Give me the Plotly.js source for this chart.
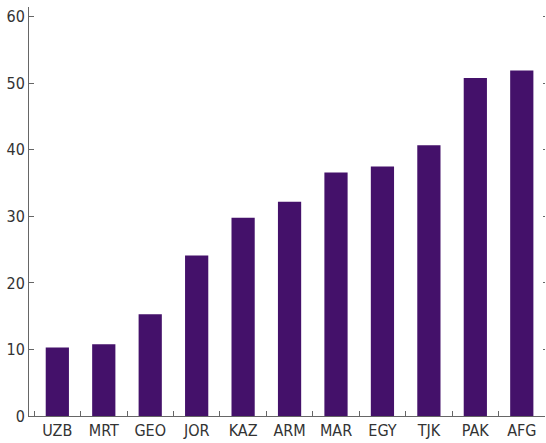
<!DOCTYPE html>
<html>
<head>
<meta charset="utf-8">
<script src="https://cdn.plot.ly/plotly-3.0.1.min.js"></script>
<style>html,body{margin:0;padding:0;background:#fff;}#chart{width:546px;height:443px;}</style>
</head>
<body>
<div id="chart"></div>
<script>
var categories = ["UZB","MRT","GEO","JOR","KAZ","ARM","MAR","EGY","TJK","PAK","AFG"];
var values = [10.3, 10.8, 15.3, 24.1, 29.8, 32.2, 36.6, 37.5, 40.7, 50.8, 51.9];
var yTicks = [0, 10, 20, 30, 40, 50, 60];

var fontFam = "'Liberation Sans Narrow', 'DejaVu Sans Condensed', sans-serif";
var data = [
  {type: "bar", x: categories, y: values, marker: {color: "#44116a"}, hoverinfo: "none"},
  {type: "scatter", x: [categories[0]], y: [0], yaxis: "y2", mode: "markers", marker: {opacity: 0}, showlegend: false, hoverinfo: "none"}
];
var layout = {
  width: 546, height: 443,
  margin: {l: 29, r: 1, t: 7, b: 27},
  paper_bgcolor: "#fff", plot_bgcolor: "#fff",
  showlegend: false,
  bargap: 0.5,
  font: {family: fontFam, size: 16, color: "#333"},
  xaxis: {
    type: "category", range: [-0.61, 10.5],
    showline: true, linecolor: "#666", linewidth: 1,
    ticks: "inside", tickson: "boundaries", ticklen: 5, tickcolor: "#666",
    showgrid: false, zeroline: false, fixedrange: true
  },
  yaxis: {
    range: [0, 61.46], tickvals: yTicks, ticktext: yTicks.map(String),
    showline: true, linecolor: "#666", linewidth: 1,
    ticks: "inside", ticklen: 5, tickcolor: "#666",
    showgrid: false, zeroline: false, fixedrange: true
  },
  yaxis2: {
    overlaying: "y", side: "right", matches: "y", range: [0, 61.46], tickvals: yTicks,
    showticklabels: false, showline: false,
    ticks: "inside", ticklen: 2, tickcolor: "#666",
    showgrid: false, zeroline: false, fixedrange: true
  }
};
Plotly.newPlot("chart", data, layout, {displayModeBar: false, staticPlot: true});
</script>
</body>
</html>
